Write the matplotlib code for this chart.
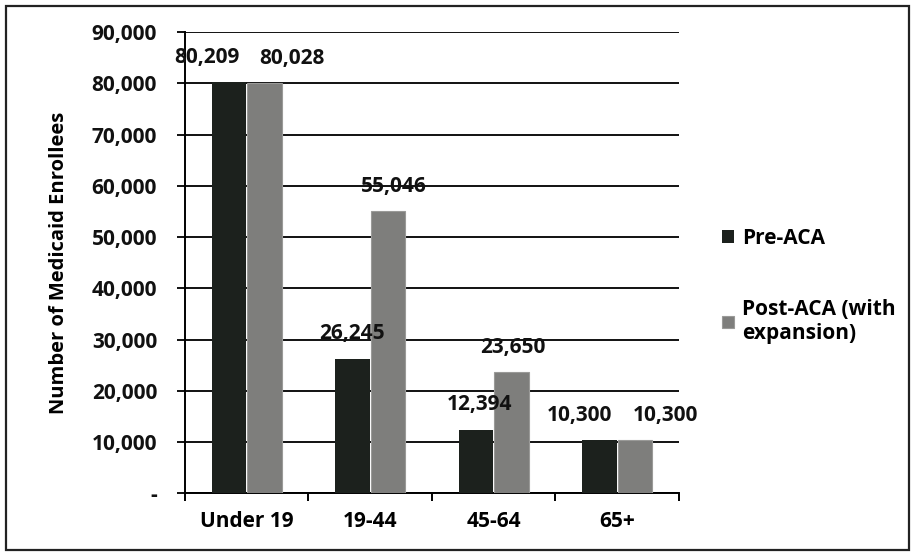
import matplotlib.pyplot as plt
import numpy as np
from matplotlib.patches import Rectangle

# data
groups = ['Under 19', '19-44', '45-64', '65+']
pre_aca = [80209, 26245, 12394, 10300]
post_aca = [80028, 55046, 23650, 10300]
series_names = ['Pre-ACA', 'Post-ACA (with\nexpansion)']
yticks = list(range(0, 90001, 10000))

# horizontal nudges of the value labels (points), as placed in the original
pre_dx = [-16, 0, 3, -14]
post_dx = [20, 4, 1, 22]

plt.rcParams['font.family'] = ['Open Sans', 'DejaVu Sans']
fs = 15

fig = plt.figure(figsize=(9.15, 5.56), dpi=100)
ax = fig.add_axes([0.202, 0.113, 0.540, 0.829])

x = np.arange(len(groups))
w = 0.28
b1 = ax.bar(x - w / 2 - 0.004, pre_aca, w, color='#1c211d', label=series_names[0], zorder=3)
b2 = ax.bar(x + w / 2 + 0.004, post_aca, w, color='#7e7e7c', edgecolor='#9a9a98',
            linewidth=0.8, label=series_names[1], zorder=3)

for bars, vals, dxs in ((b1, pre_aca, pre_dx), (b2, post_aca, post_dx)):
    for r, v, dx in zip(bars, vals, dxs):
        ax.annotate(f'{v:,}', (r.get_x() + r.get_width() / 2, v), xytext=(dx, 18),
                    textcoords='offset points', ha='center', va='center',
                    fontsize=fs, fontweight='bold', color='#111111', zorder=4)

ax.set_xlim(-0.5, len(groups) - 0.5)
ax.set_ylim(0, 90000)
ax.set_yticks(yticks)
ax.set_yticklabels(['-'] + [f'{t:,}' for t in yticks[1:]], fontsize=fs, fontweight='bold')
ax.yaxis.grid(True, color='#111111', linewidth=1.4, zorder=0)

ax.set_xticks(x)
ax.set_xticklabels(groups, fontsize=fs, fontweight='bold')
ax.set_xticks(np.arange(-0.5, len(groups)), minor=True)
ax.tick_params(axis='x', which='major', length=0, pad=13)
ax.tick_params(axis='x', which='minor', length=6, width=1.4, direction='out')
ax.tick_params(axis='y', length=6, width=1.4, pad=14, colors='#111111')

for s in ('top', 'right'):
    ax.spines[s].set_visible(False)
ax.spines['left'].set_linewidth(1.4)
ax.spines['bottom'].set_linewidth(1.4)

ax.set_ylabel('Number of Medicaid Enrollees', fontsize=fs - 0.5, fontweight='bold', labelpad=16)

ax.legend(loc='center left', bbox_to_anchor=(1.05, 0.45), frameon=False,
          handlelength=0.55, handleheight=0.55, handletextpad=0.4, labelspacing=2.4,
          prop={'weight': 'bold', 'size': fs})

fig.patches.append(Rectangle((0.007, 0.01), 0.986, 0.98, transform=fig.transFigure,
                             fill=False, edgecolor='#222222', linewidth=1.6))

fig.savefig('out.png', dpi=100)
